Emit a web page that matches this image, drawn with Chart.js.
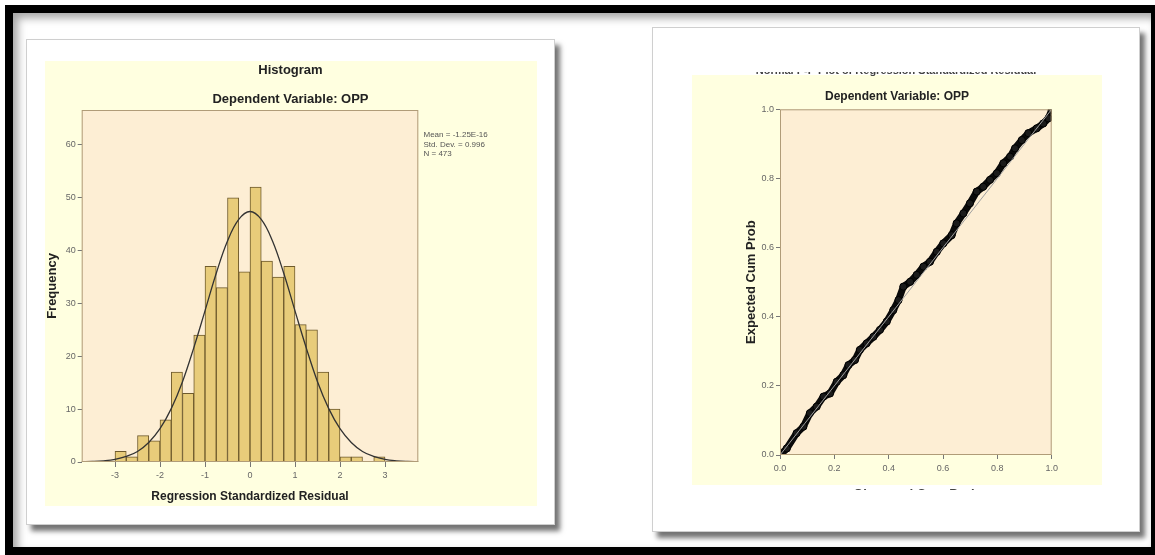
<!DOCTYPE html>
<html>
<head>
<meta charset="utf-8">
<title>Histogram and P-P plot</title>
<script src="https://cdn.jsdelivr.net/npm/chart.js@4.4.1/dist/chart.umd.min.js"></script>
<style>
  html, body { margin: 0; padding: 0; background: #fff; }
  body { width: 1155px; height: 555px; position: relative; overflow: hidden; }
  #frame {
    position: absolute; left: 5px; top: 5px; width: 1138px; height: 534px;
    border-style: solid; border-color: #000; border-width: 8px 4px 8px 8px;
    background: #fff; box-shadow: inset 5px 5px 9px rgba(0,0,0,0.35);
  }
  .panel {
    position: absolute; background: #fff; border: 1px solid #cfcfcf;
    box-shadow: 5px 6px 5px rgba(0,0,0,0.55);
  }
  #panelL { left: 26px; top: 39px; width: 527px; height: 484px; }
  #panelR { left: 652px; top: 27px; width: 486px; height: 503px; }
  .bg { position: absolute; background: #ffffe0; }
  #bgL { left: 45px; top: 61px; width: 492px; height: 445px; }
  #bgR { left: 692px; top: 75px; width: 410px; height: 410px; }
  canvas { position: absolute; }
  #histChart { left: 45px; top: 61px; }
  #ppChart { left: 692px; top: 72px; }
</style>
</head>
<body>
<div id="frame"></div>
<div class="panel" id="panelL"></div>
<div class="panel" id="panelR"></div>
<div class="bg" id="bgL"></div>
<div class="bg" id="bgR"></div>
<canvas id="histChart" width="492" height="445"></canvas>
<canvas id="ppChart" width="410" height="418"></canvas>
<script>
// histogram of regression standardized residuals (bins of 0.25)
const binCenters = [-2.875, -2.625, -2.375, -2.125, -1.875, -1.625, -1.375, -1.125,
  -0.875, -0.625, -0.375, -0.125, 0.125, 0.375, 0.625, 0.875,
  1.125, 1.375, 1.625, 1.875, 2.125, 2.375, 2.625, 2.875];
const binCounts = [2, 1, 5, 4, 8, 17, 13, 24, 37, 33, 50, 36, 52, 38, 35, 37, 26, 25, 17, 10, 1, 1, 0, 1];
const histXTicks = [-3, -2, -1, 0, 1, 2, 3];
const histYTicks = [0, 10, 20, 30, 40, 50, 60];

// normal curve
const curveX = [-3.75, -3.5, -3.25, -3, -2.75, -2.5, -2.25, -2, -1.75, -1.5, -1.25, -1, -0.75, -0.5, -0.25, 0,
  0.25, 0.5, 0.75, 1, 1.25, 1.5, 1.75, 2, 2.25, 2.5, 2.75, 3, 3.25, 3.5, 3.75];
const curveY = [0.04, 0.1, 0.23, 0.5, 1.05, 2.0, 3.7, 6.3, 10.1, 15.2, 21.6, 28.6, 35.7, 41.8, 45.9, 47.4,
  45.9, 41.8, 35.7, 28.6, 21.6, 15.2, 10.1, 6.3, 3.7, 2.0, 1.05, 0.5, 0.23, 0.1, 0.04];

const statsLines = ['Mean = -1.25E-16', 'Std. Dev. = 0.996', 'N = 473'];

// normal P-P plot: observed vs expected cumulative probability
const ppObserved = [0, 0.025, 0.061, 0.086, 0.11, 0.135, 0.16, 0.184, 0.209, 0.233, 0.252, 0.276, 0.294,
  0.319, 0.344, 0.368, 0.393, 0.417, 0.436, 0.454, 0.479, 0.503, 0.528, 0.552, 0.577, 0.601, 0.632,
  0.65, 0.675, 0.699, 0.724, 0.748, 0.773, 0.798, 0.822, 0.847, 0.865, 0.89, 0.914, 0.945, 0.969, 0.988, 1.0];
const ppExpected = [0, 0.019, 0.063, 0.082, 0.121, 0.14, 0.169, 0.178, 0.212, 0.231, 0.26, 0.275, 0.304,
  0.323, 0.342, 0.362, 0.386, 0.419, 0.448, 0.487, 0.501, 0.521, 0.545, 0.559, 0.588, 0.612, 0.636,
  0.67, 0.699, 0.728, 0.762, 0.776, 0.796, 0.815, 0.844, 0.863, 0.887, 0.911, 0.931, 0.945, 0.959, 0.974, 0.998];
const ppTicks = [0, 0.2, 0.4, 0.6, 0.8, 1.0];

Chart.defaults.font.family = '"Liberation Sans", Arial, sans-serif';
Chart.defaults.animation = false;

const FONT = '"Liberation Sans", Arial, sans-serif';

// peach plot background + tan frame, like SPSS output
const plotFrame = {
  id: 'plotFrame',
  beforeDraw(chart) {
    const a = chart.chartArea, ctx = chart.ctx;
    ctx.save();
    ctx.fillStyle = '#fdeed4';
    ctx.fillRect(a.left, a.top, a.right - a.left, a.bottom - a.top);
    ctx.restore();
  },
  afterDatasetsDraw(chart) {
    const a = chart.chartArea, ctx = chart.ctx;
    ctx.save();
    ctx.strokeStyle = '#b09c78';
    ctx.lineWidth = 1;
    ctx.strokeRect(a.left + 0.5, a.top + 0.5, a.right - a.left - 1, a.bottom - a.top - 1);
    ctx.restore();
  }
};

// free text (titles, stats box)
const textLayer = {
  id: 'textLayer',
  afterDraw(chart, args, opts) {
    const ctx = chart.ctx;
    ctx.save();
    (opts.items || []).forEach(function(it) {
      ctx.font = it.font;
      ctx.fillStyle = it.color || '#222';
      ctx.textAlign = it.align || 'center';
      ctx.textBaseline = it.baseline || 'middle';
      ctx.fillText(it.text, it.x, it.y);
    });
    ctx.restore();
  }
};

function fixedTicks(values) {
  return function(scale) {
    scale.ticks = values.map(function(v) { return { value: v }; });
  };
}

const histChart = new Chart(document.getElementById('histChart'), {
  type: 'bar',
  data: {
    datasets: [{
      type: 'line',
      data: curveX.map(function(x, i) { return { x: x, y: curveY[i] }; }),
      borderColor: '#333',
      borderWidth: 1.3,
      pointRadius: 0,
      tension: 0.4,
      fill: false,
      order: 1
    }, {
      type: 'bar',
      data: binCenters.map(function(x, i) { return { x: x, y: binCounts[i] }; }),
      backgroundColor: '#e8cc7a',
      borderColor: '#6e5a2c',
      borderWidth: 1,
      barPercentage: 1,
      categoryPercentage: 1,
      order: 2
    }]
  },
  options: {
    responsive: false,
    layout: { padding: { left: 0, right: 118.7, top: 49, bottom: 0 } },
    plugins: {
      legend: { display: false },
      tooltip: { enabled: false },
      textLayer: {
        items: [
          { text: 'Histogram', x: 245.5, y: 9, font: 'bold 13px ' + FONT },
          { text: 'Dependent Variable: OPP', x: 245.5, y: 38, font: 'bold 13px ' + FONT },
          { text: statsLines[0], x: 378.5, y: 74, align: 'left', font: '8px ' + FONT, color: '#555' },
          { text: statsLines[1], x: 378.5, y: 83.5, align: 'left', font: '8px ' + FONT, color: '#555' },
          { text: statsLines[2], x: 378.5, y: 93, align: 'left', font: '8px ' + FONT, color: '#555' }
        ]
      }
    },
    scales: {
      x: {
        type: 'linear', min: -3.74, max: 3.74, offset: false,
        afterBuildTicks: fixedTicks(histXTicks),
        ticks: { color: '#666', font: { size: 9 }, padding: 3, maxRotation: 0, autoSkip: false },
        grid: { offset: false, drawOnChartArea: false, drawTicks: true, tickLength: 5, color: '#777' },
        border: { display: false },
        title: {
          display: true, text: 'Regression Standardized Residual', color: '#222',
          font: { size: 12, weight: 'bold' }, padding: { top: 0, bottom: 1.8 }
        },
        afterFit: function(s) { s.height = 44; }
      },
      y: {
        min: 0, max: 66.6,
        afterBuildTicks: fixedTicks(histYTicks),
        ticks: { color: '#666', font: { size: 9 }, padding: 2 },
        grid: { drawOnChartArea: false, drawTicks: true, tickLength: 4, color: '#777' },
        border: { display: false },
        title: {
          display: true, text: 'Frequency', color: '#222',
          font: { size: 13, weight: 'bold' }, padding: { top: 0, bottom: 0 }
        },
        afterFit: function(s) { s.width = 36.7; }
      }
    }
  },
  plugins: [plotFrame, textLayer]
});

const ppChart = new Chart(document.getElementById('ppChart'), {
  type: 'scatter',
  data: {
    datasets: [{
      data: [{ x: 0, y: 0 }, { x: 1, y: 1 }],
      showLine: true,
      borderColor: '#a0a0a0',
      borderWidth: 1,
      pointRadius: 0,
      order: 0
    }, {
      data: ppObserved.map(function(x, i) { return { x: x, y: ppExpected[i] }; }),
      showLine: true,
      borderColor: '#0a0a0a',
      borderWidth: 7,
      pointRadius: 3.6,
      pointBackgroundColor: '#1a1a1a',
      pointBorderColor: '#000',
      pointBorderWidth: 1,
      order: 1
    }]
  },
  options: {
    responsive: false,
    layout: { padding: { left: 0, right: 50.3, top: 37.3, bottom: 0 } },
    plugins: {
      legend: { display: false },
      tooltip: { enabled: false },
      textLayer: {
        items: [
          { text: 'Normal P-P Plot of Regression Standardized Residual', x: 204, y: 2, baseline: 'alphabetic', font: 'bold 11px ' + FONT, color: '#444' },
          { text: 'Dependent Variable: OPP', x: 205, y: 25, font: 'bold 12px ' + FONT },
          { text: 'Observed Cum Prob', x: 224, y: 422, font: 'bold 13px ' + FONT, color: '#444' }
        ]
      }
    },
    scales: {
      x: {
        type: 'linear', min: 0, max: 1,
        afterBuildTicks: fixedTicks(ppTicks),
        ticks: { color: '#666', font: { size: 9 }, padding: 4, maxRotation: 0,
          callback: function(v) { return v.toFixed(1); } },
        grid: { drawOnChartArea: false, drawTicks: true, tickLength: 4, color: '#777' },
        border: { display: false },
        afterFit: function(s) { s.height = 35; }
      },
      y: {
        type: 'linear', min: 0, max: 1,
        afterBuildTicks: fixedTicks(ppTicks),
        ticks: { color: '#666', font: { size: 9 }, padding: 2,
          callback: function(v) { return v.toFixed(1); } },
        grid: { drawOnChartArea: false, drawTicks: true, tickLength: 4, color: '#777' },
        border: { display: false },
        title: {
          display: true, text: 'Expected Cum Prob', color: '#222',
          font: { size: 13, weight: 'bold' }, padding: { top: 52, bottom: 0 }
        },
        afterFit: function(s) { s.width = 88; }
      }
    }
  },
  plugins: [plotFrame, textLayer]
});
</script>
</body>
</html>
